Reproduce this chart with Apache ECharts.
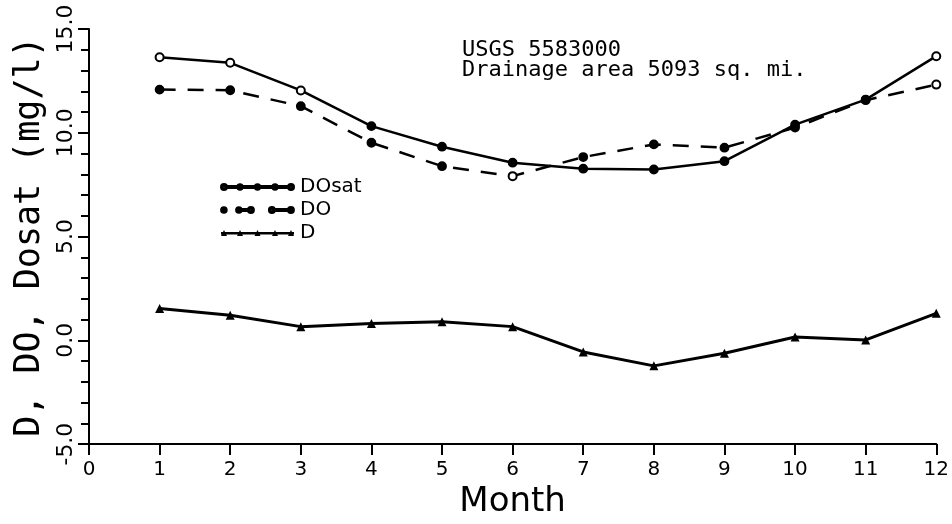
<!DOCTYPE html>
<html>
<head>
<meta charset="utf-8">
<script src="https://cdn.jsdelivr.net/npm/echarts@6/dist/echarts.min.js"></script>
<style>
html,body{margin:0;padding:0;background:#fff;}
#chart{width:952px;height:524px;}
</style>
</head>
<body>
<div id="chart"></div>
<script>
// ---- data ----
const months = [1, 2, 3, 4, 5, 6, 7, 8, 9, 10, 11, 12];
const doSat  = [13.64, 13.37, 12.04, 10.32, 9.33, 8.56, 8.27, 8.23, 8.63, 10.39, 11.60, 13.69];
const doVals = [12.08, 12.05, 11.28, 9.52, 8.39, 7.91, 8.83, 9.44, 9.28, 10.25, 11.57, 12.32];
const dVals  = [1.53, 1.21, 0.66, 0.81, 0.89, 0.66, -0.56, -1.23, -0.62, 0.16, 0.02, 1.30];
const xTicks = [0, 1, 2, 3, 4, 5, 6, 7, 8, 9, 10, 11, 12];
const yTicks = [-5, 0, 5, 10, 15];
const seriesNames = ['DOsat', 'DO', 'D'];
const yAxisTitle = 'D, DO, Dosat (mg/l)';
const xAxisTitle = 'Month';
const noteLines = ['USGS 5583000', 'Drainage area 5093 sq. mi.'];

// ---- legend icon paths (styling only) ----
function circ(cx, cy, r, ccw) {
  const s = ccw ? 0 : 1;
  return `M${cx - r},${cy} A${r},${r} 0 1 ${s} ${cx + r},${cy} A${r},${r} 0 1 ${s} ${cx - r},${cy} Z `;
}
function ring(cx, cy, r) { return circ(cx, cy, r, false) + circ(cx, cy, r * 0.45, true); }
function rect(x0, y0, x1, y1) { return `M${x0},${y0} L${x1},${y0} L${x1},${y1} L${x0},${y1} Z `; }
function tri(cx, cy, w, h) { return `M${cx - w / 2},${cy + h / 2} L${cx},${cy - h / 2} L${cx + w / 2},${cy + h / 2} Z `; }

const iconDOsat = 'path://' + ring(3, 3, 3) + rect(6, 2.1, 67, 3.9) + circ(19, 3, 2.7) + circ(36.5, 3, 2.7) + circ(54, 3, 2.7) + ring(70, 3, 3);
const iconDO = 'path://' + circ(3, 3, 2.8) + circ(18, 3, 2.8) + rect(18, 2.1, 27, 3.9) + ring(30, 3, 3) + ring(51, 3, 3) + rect(54, 2.1, 68, 3.9) + circ(70, 3, 3);
const iconD = 'path://' + rect(0, 2, 73, 4.4) + tri(3, 3, 6, 6) + tri(19, 3, 6, 6) + tri(36.5, 3, 6, 6) + tri(54, 3, 6, 6) + tri(70, 3, 6, 6);

const FONT = 'DejaVu Sans';
const MONO = 'DejaVu Sans Mono';

function pairs(vals) { return months.map((m, i) => [m, vals[i]]); }

const chart = echarts.init(document.getElementById('chart'), null, { renderer: 'canvas' });
chart.setOption({
  backgroundColor: '#fff',
  animation: false,
  grid: { left: 89, right: 15, top: 29, bottom: 79, containLabel: false },
  xAxis: {
    type: 'value', min: xTicks[0], max: xTicks[xTicks.length - 1], interval: 1,
    axisLine: { show: true, onZero: false, lineStyle: { color: '#000', width: 2 } },
    axisTick: { show: true, length: 11, lineStyle: { color: '#000', width: 2 } },
    axisLabel: { color: '#000', fontSize: 20, margin: 16, fontFamily: FONT },
    splitLine: { show: false },
    name: xAxisTitle, nameLocation: 'middle', nameGap: 40,
    nameTextStyle: { color: '#000', fontSize: 34, fontFamily: FONT }
  },
  yAxis: {
    type: 'value', min: yTicks[0], max: yTicks[yTicks.length - 1], interval: 5,
    axisLine: { show: true, onZero: false, lineStyle: { color: '#000', width: 2 } },
    axisTick: { show: true, length: 11, lineStyle: { color: '#000', width: 2 } },
    minorTick: { show: true, splitNumber: 5, length: 8, lineStyle: { color: '#000', width: 2 } },
    axisLabel: { color: '#000', fontSize: 22, margin: 12, rotate: 90, fontFamily: FONT,
      formatter: v => v.toFixed(1) },
    splitLine: { show: false },
    name: yAxisTitle, nameLocation: 'middle', nameGap: 42, nameRotate: 90,
    nameTextStyle: { color: '#000', fontSize: 35, fontFamily: MONO }
  },
  legend: {
    orient: 'vertical', left: 215, top: 172,
    itemWidth: 73, itemHeight: 6, itemGap: 3,
    selectedMode: false,
    textStyle: { color: '#000', fontSize: 20, fontFamily: FONT, padding: [0, 0, 0, 1] },
    data: [
      { name: seriesNames[0], icon: iconDOsat, itemStyle: { color: '#000' } },
      { name: seriesNames[1], icon: iconDO, itemStyle: { color: '#000' } },
      { name: seriesNames[2], icon: iconD, itemStyle: { color: '#000' } }
    ]
  },
  graphic: [{
    type: 'text', left: 462, top: 39,
    style: { text: noteLines.join('\n'), fill: '#000', font: '22px "DejaVu Sans Mono"', lineHeight: 20 }
  }],
  series: [
    {
      type: 'line', name: seriesNames[0], data: pairs(doSat),
      symbol: (v, p) => ([0, 1, 2, 11].includes(p.dataIndex) ? 'emptyCircle' : 'circle'),
      symbolSize: 8,
      lineStyle: { color: '#000', width: 2.5 },
      itemStyle: { color: '#000', borderColor: '#000', borderWidth: 1.8 }
    },
    {
      type: 'line', name: seriesNames[1], data: pairs(doVals),
      symbol: (v, p) => ([5, 11].includes(p.dataIndex) ? 'emptyCircle' : 'circle'),
      symbolSize: 8,
      lineStyle: { color: '#000', width: 2.5, type: [16, 12] },
      itemStyle: { color: '#000', borderColor: '#000', borderWidth: 1.8 }
    },
    {
      type: 'line', name: seriesNames[2], data: pairs(dVals),
      symbol: 'triangle', symbolSize: 9,
      lineStyle: { color: '#000', width: 3 },
      itemStyle: { color: '#000' }
    }
  ]
});
</script>
</body>
</html>
